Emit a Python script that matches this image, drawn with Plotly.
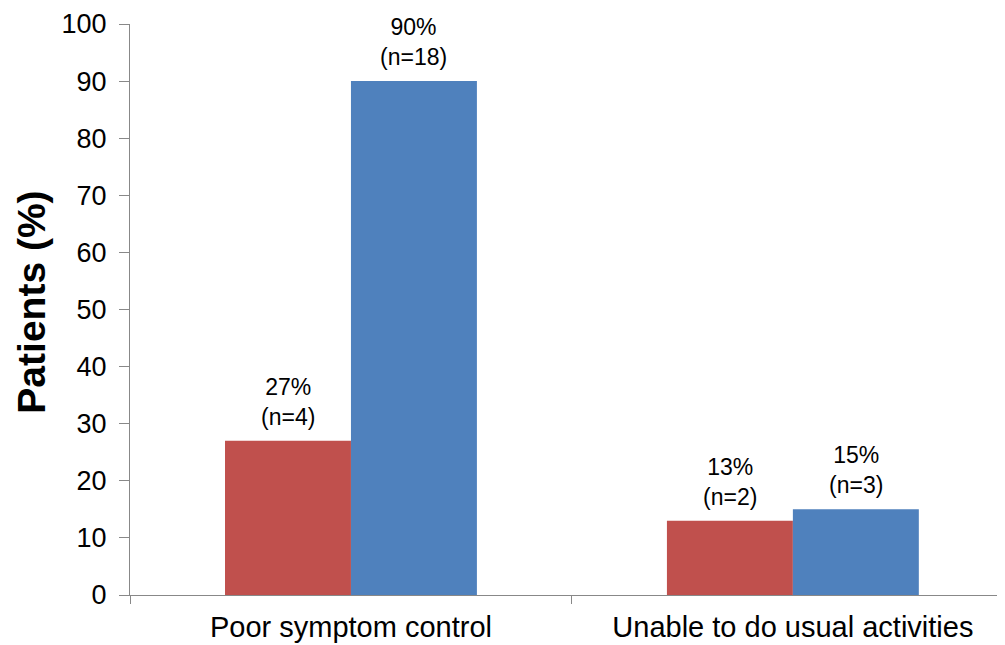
import plotly.graph_objects as go

categories = ["Poor symptom control", "Unable to do usual activities"]
red_values = [27, 13]
red_n = [4, 2]
blue_values = [90, 15]
blue_n = [18, 3]

def labels(vals, ns):
    return [f"{v}%<br>(n={n})" for v, n in zip(vals, ns)]

BARGAP = 0.43
half = (1 - BARGAP) / 4  # center offset of each bar in a 2-bar group

fig = go.Figure()
fig.add_trace(go.Bar(x=categories, y=red_values, name="Group 1",
                     marker=dict(color="#C0504D", line=dict(width=0))))
fig.add_trace(go.Bar(x=categories, y=blue_values, name="Group 2",
                     marker=dict(color="#4F81BD", line=dict(width=0))))

for vals, ns, off in [(red_values, red_n, -half), (blue_values, blue_n, half)]:
    for i, (v, t) in enumerate(zip(vals, labels(vals, ns))):
        fig.add_annotation(x=i + off, y=v, xref="x", yref="y", text=t, showarrow=False,
                           yanchor="bottom", yshift=9, font=dict(size=23, color="black"))

fig.add_annotation(xref="paper", yref="paper", x=-0.112, y=0.512, text="<b>Patients (%)</b>",
                   textangle=-90, showarrow=False, xanchor="center", yanchor="middle",
                   font=dict(size=39, color="black"))

fig.update_layout(
    width=997, height=637,
    margin=dict(l=122, r=0, t=16, b=50, autoexpand=False),
    paper_bgcolor="white", plot_bgcolor="white",
    font=dict(family="Liberation Sans, Arial, sans-serif", color="black"),
    barmode="group", bargap=BARGAP, bargroupgap=0,
    showlegend=False,
)
fig.update_xaxes(range=[-0.5, 1.48], showline=True, linecolor="#888888", linewidth=1,
                 ticks="outside", tickson="boundaries", ticklen=8, tickcolor="#888888",
                 tickfont=dict(size=29), ticklabelstandoff=6,
                 showgrid=False, zeroline=False, automargin=False)
fig.update_yaxes(range=[0, 100], dtick=10, showline=True, linecolor="#888888", linewidth=1,
                 ticks="outside", ticklen=10, tickcolor="#888888", tickfont=dict(size=27),
                 ticklabelstandoff=7, ticklabeloverflow="allow",
                 showgrid=False, zeroline=False, automargin=False)

fig.write_html("out.html")
